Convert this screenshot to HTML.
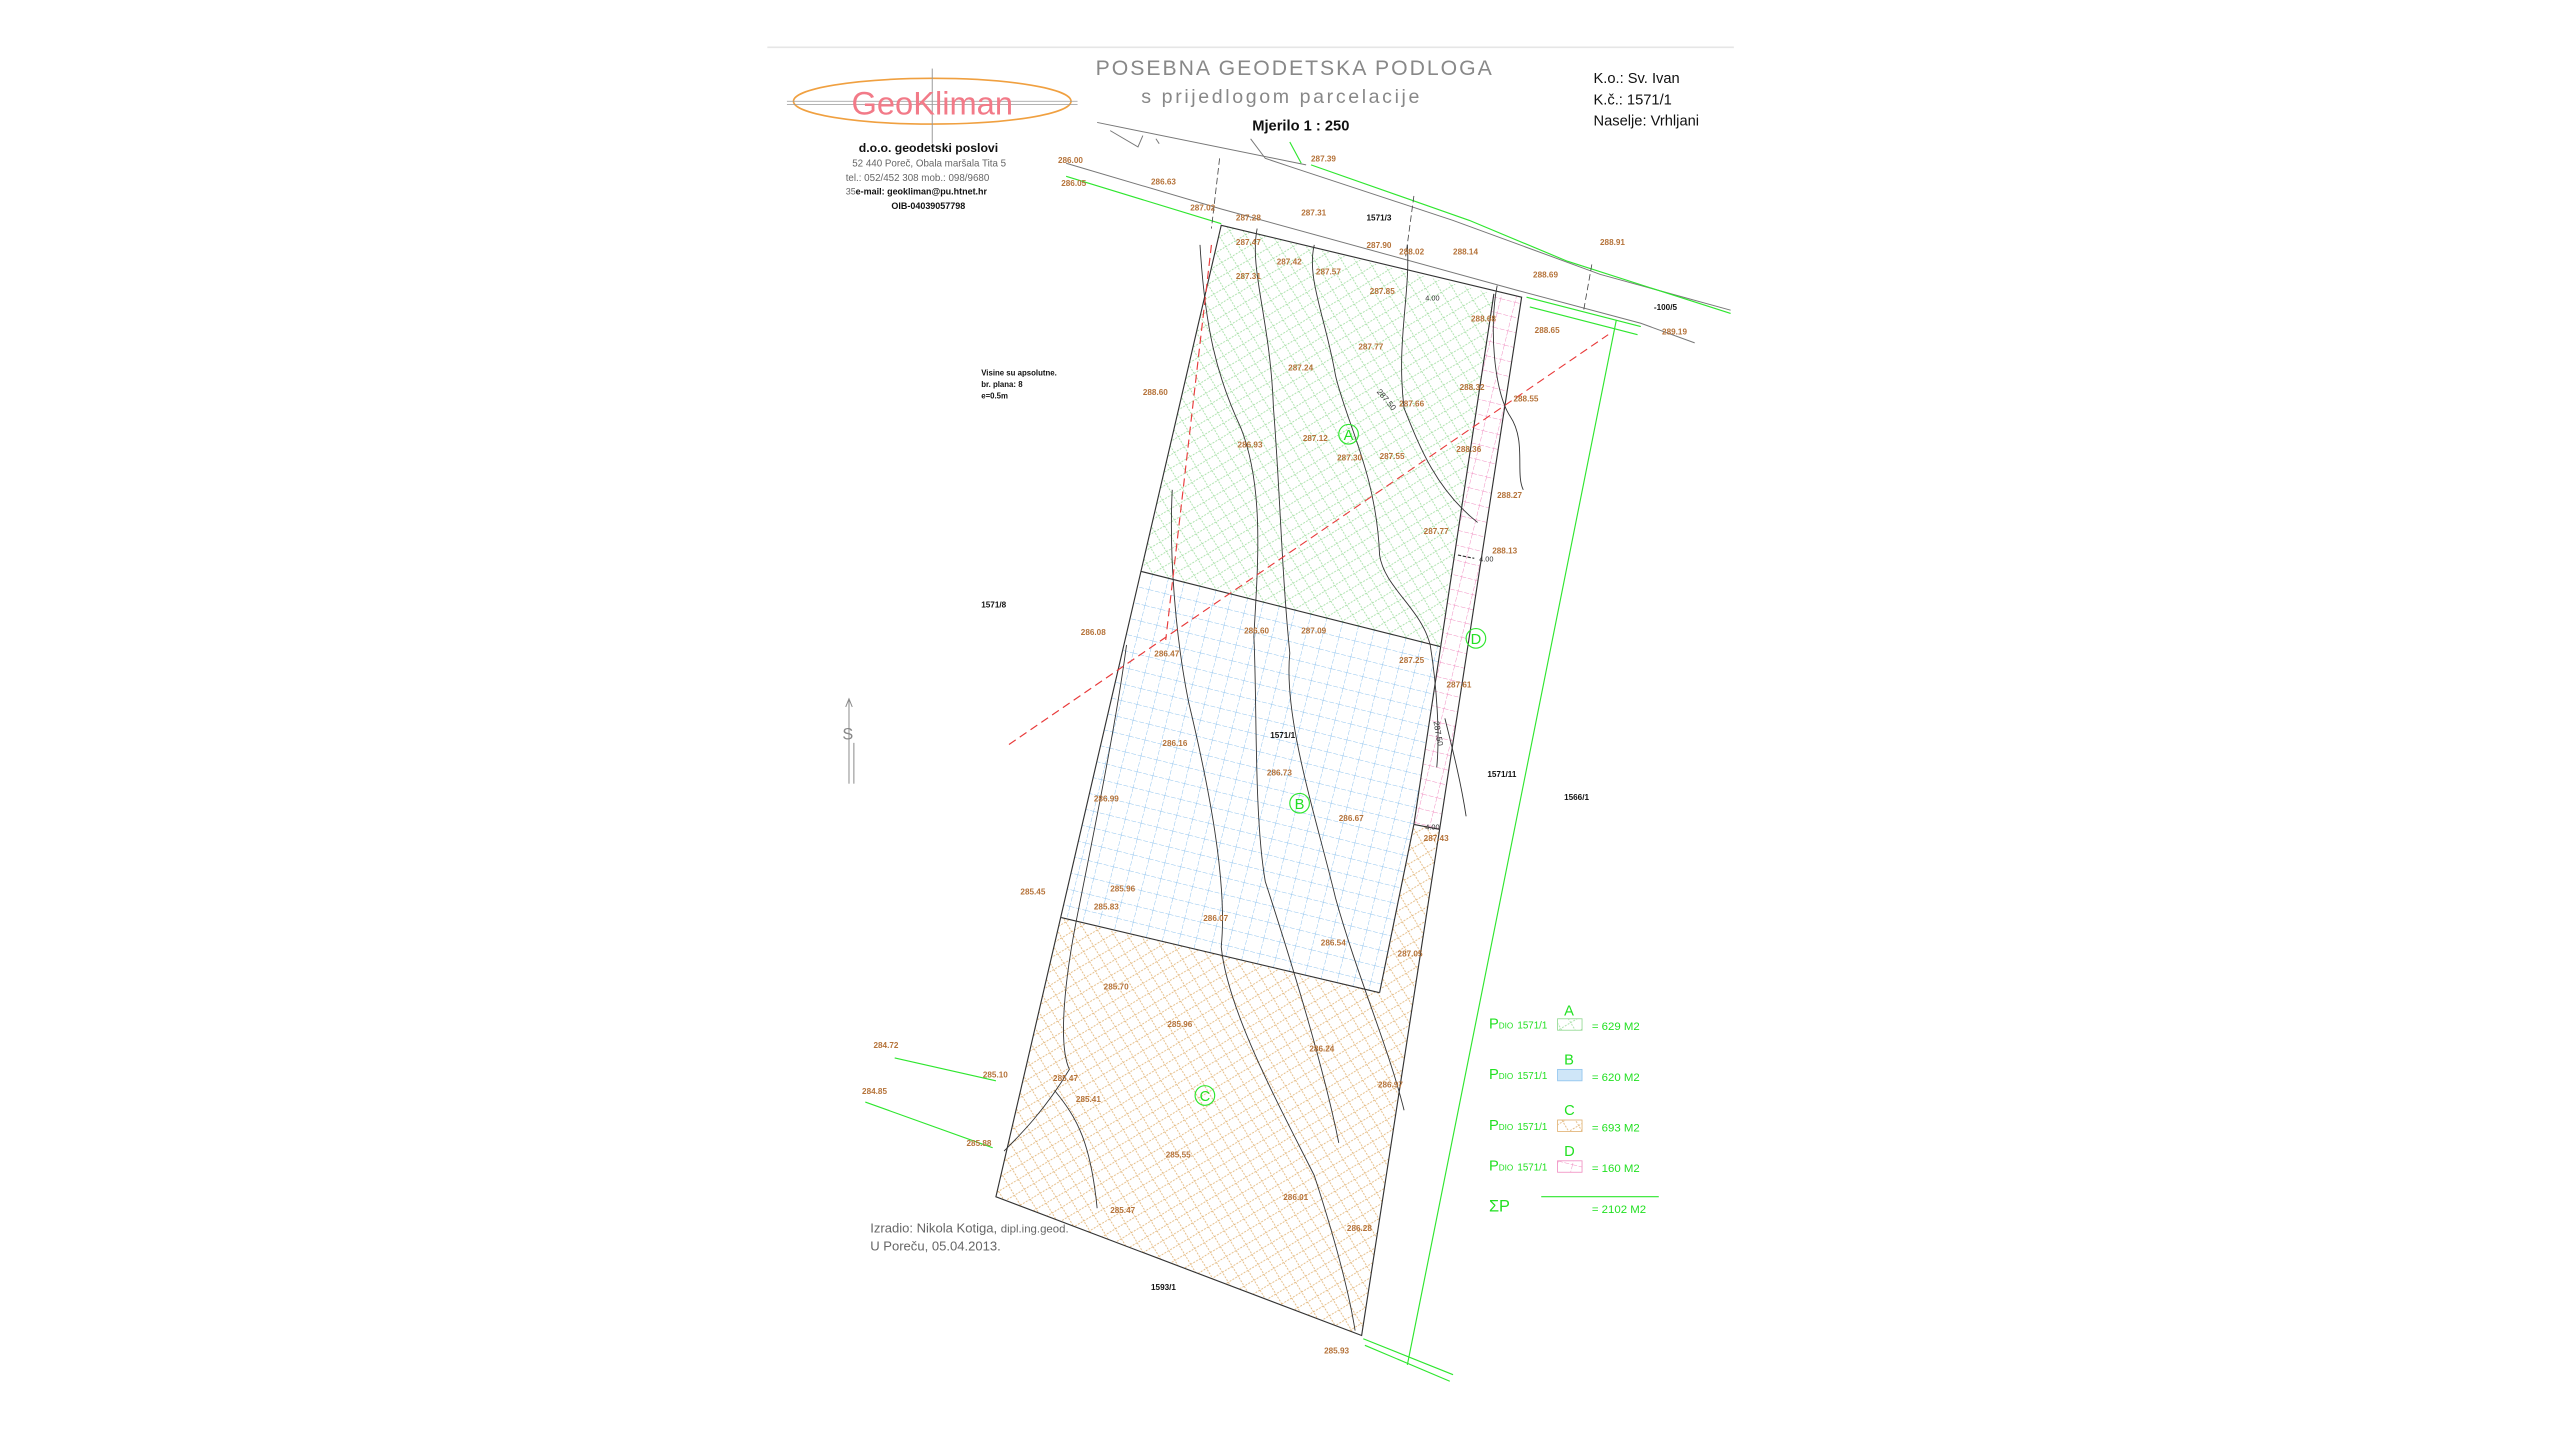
<!DOCTYPE html>
<html><head><meta charset="utf-8"><style>
html,body{margin:0;padding:0;background:#fff;}
svg{display:block;}
text{font-family:"Liberation Sans",sans-serif;}
.n{font-size:5px;fill:#b5733a;font-weight:bold;}
.b{font-size:5px;fill:#111;font-weight:bold;}
.g{fill:#22e022;font-family:"Liberation Sans",sans-serif;}
</style></head><body>
<svg width="2560" height="1440" viewBox="0 0 1568 882" xmlns="http://www.w3.org/2000/svg">
<defs>
<pattern id="pA" width="10" height="10" patternUnits="userSpaceOnUse" patternTransform="rotate(14)">
<path d="M0 0L10 10M10 0L0 10" stroke="#9ddc9d" stroke-width="0.5" stroke-dasharray="1.2 0.8"/></pattern>
<pattern id="pB" width="10" height="10" patternUnits="userSpaceOnUse" patternTransform="rotate(14)">
<path d="M0 0H10M0 0V10" stroke="#8ec3ee" stroke-width="0.6" stroke-dasharray="3 1"/></pattern>
<pattern id="pC" width="10" height="10" patternUnits="userSpaceOnUse" patternTransform="rotate(14)">
<path d="M0 0L10 10M10 0L0 10" stroke="#e0b070" stroke-width="0.5" stroke-dasharray="1.2 0.8"/></pattern>
<pattern id="pD" width="9" height="9" patternUnits="userSpaceOnUse" patternTransform="rotate(14)">
<path d="M0 0H9M0 0V9" stroke="#f08cc0" stroke-width="0.6" stroke-dasharray="3 1"/></pattern>
</defs>
<rect width="1568" height="882" fill="#fff"/>
<line x1="470" y1="29" x2="1062" y2="29" stroke="#e6e6e6" stroke-width="1"/>
<!-- logo -->
<ellipse cx="571" cy="62" rx="85" ry="14" fill="none" stroke="#f0a040" stroke-width="1"/>
<line x1="482" y1="62" x2="660" y2="62" stroke="#999" stroke-width="0.5"/>
<line x1="482" y1="64" x2="660" y2="64" stroke="#999" stroke-width="0.5"/>
<line x1="571" y1="42" x2="571" y2="88" stroke="#999" stroke-width="0.6"/>
<text x="571" y="70" text-anchor="middle" font-size="20" fill="#f27a88" style="font-weight:300">GeoKliman</text>
<text x="793" y="46" text-anchor="middle" font-size="13" fill="#888" letter-spacing="1.2">POSEBNA GEODETSKA PODLOGA</text>
<text x="785" y="63" text-anchor="middle" font-size="12" fill="#888" letter-spacing="1.6">s prijedlogom parcelacije</text>
<text x="767" y="80" font-size="9" fill="#111" font-weight="bold">Mjerilo 1 : 250</text>
<text x="976" y="51" font-size="9" fill="#111">K.o.: Sv. Ivan</text>
<text x="976" y="64" font-size="9" fill="#111">K.č.: 1571/1</text>
<text x="976" y="77" font-size="9" fill="#111">Naselje: Vrhljani</text>
<text x="526" y="93" font-size="7.5" fill="#111" font-weight="bold">d.o.o.  geodetski poslovi</text>
<text x="522" y="102" font-size="6" fill="#666">52 440 Poreč, Obala maršala Tita 5</text>
<text x="518" y="111" font-size="6" fill="#666">tel.: 052/452 308  mob.: 098/9680</text>
<text x="518" y="119" font-size="5.5" fill="#111" font-weight="bold"><tspan fill="#666" font-weight="normal">35</tspan>e-mail:  geokliman@pu.htnet.hr</text>
<text x="546" y="128" font-size="5.5" fill="#111" font-weight="bold">OIB-04039057798</text>
<!-- road lines -->
<g fill="none" stroke="#777" stroke-width="0.6">
<polyline points="672,75 800,101"/>
<polyline points="680,80 697,90 700,83"/>
<polyline points="766,85 775,97 790,102 890,135 980,168 1060,190"/>
<polyline points="653,100 748,128 930,178 1005,198 1038,210"/>
<line x1="708" y1="85" x2="710" y2="88"/>
</g>
<g fill="none" stroke="#2ee62e" stroke-width="0.7">
<polyline points="790,87 797,100"/>
<polyline points="803,101 900,135 960,160 1060,192"/>
<polyline points="653,108 748,137"/>
<polyline points="990,196 862,836"/>
<polyline points="935,182 1005,200"/>
<polyline points="937,188 1003,205"/>
<polyline points="548,648 610,662"/>
<polyline points="530,675 608,703"/>
<polyline points="835,820 890,842"/>
<polyline points="836,824 888,846"/>
</g>
<g stroke="#444" stroke-width="0.5" stroke-dasharray="4 2" fill="none">
<line x1="747" y1="97" x2="742" y2="140"/>
<line x1="866" y1="120" x2="861" y2="157"/>
<line x1="975" y1="162" x2="970" y2="190"/>
</g>
<!-- regions -->
<polygon points="748,138 915,180 882,396 699,350" fill="url(#pA)"/>
<polygon points="699,350 882,396 866,505 845,608 650,562" fill="url(#pB)"/>
<polygon points="650,562 845,608 866,505 882,508 834,818 610,733" fill="url(#pC)"/>
<polygon points="915,180 932,182 882,508 866,505" fill="url(#pD)"/>
<g fill="none" stroke="#333" stroke-width="0.7">
<polygon points="748,138 932,182 834,818 610,733"/>
<polyline points="915,180 866,505 845,608"/>
<line x1="699" y1="350" x2="882" y2="396"/>
<line x1="650" y1="562" x2="845" y2="608"/>
<line x1="866" y1="505" x2="882" y2="508"/>
<line x1="893" y1="340" x2="903" y2="342" stroke-dasharray="2 1"/>
</g>
<!-- contours -->
<g fill="none" stroke="#333" stroke-width="0.55">
<path d="M805,150 C800,170 812,195 818,230 C825,260 843,290 845,340 C848,360 870,372 876,395 C880,420 882,450 880,470"/>
<path d="M770,140 C765,165 778,195 780,250 C784,300 785,350 790,400 C786,440 806,500 818,550 C832,600 850,640 860,680"/>
<path d="M735,150 C738,200 745,230 760,262 C775,300 770,350 768,390 C770,430 768,500 775,540 C788,580 810,650 820,700"/>
<path d="M862,150 C864,180 855,210 860,250 C870,275 880,300 905,320"/>
<path d="M917,175 C912,200 915,240 925,255 C935,270 928,290 933,300"/>
<path d="M718,300 C716,340 720,390 728,430 C740,480 752,540 748,580 C752,620 785,680 805,720 C818,760 826,790 830,815"/>
<path d="M690,395 C684,440 672,500 660,560 C652,600 648,640 655,655 C640,680 625,695 615,705"/>
<path d="M646,668 C660,685 668,700 672,740"/>
<path d="M885,440 C890,460 895,480 898,500"/>
</g>
<g stroke="#e83a3a" stroke-width="0.7" stroke-dasharray="5 3" fill="none">
<line x1="618" y1="456" x2="985" y2="205"/>
<line x1="742" y1="150" x2="714" y2="392"/>
</g>
<g font-size="9" class="g" text-anchor="middle">
<circle cx="826" cy="266" r="6" fill="none" stroke="#2ee62e" stroke-width="0.7"/><text x="826" y="269.5" font-size="9">A</text>
<circle cx="796" cy="492" r="6" fill="none" stroke="#2ee62e" stroke-width="0.7"/><text x="796" y="495.5" font-size="9">B</text>
<circle cx="738" cy="671" r="6" fill="none" stroke="#2ee62e" stroke-width="0.7"/><text x="738" y="674.5" font-size="9">C</text>
<circle cx="904" cy="391" r="6" fill="none" stroke="#2ee62e" stroke-width="0.7"/><text x="904" y="394.5" font-size="9">D</text>
</g>
<g>
<text class="n" x="648" y="100">286.00</text><text class="n" x="650" y="114">286.05</text>
<text class="n" x="705" y="113">286.63</text><text class="n" x="729" y="129">287.02</text>
<text class="n" x="757" y="135">287.28</text><text class="n" x="797" y="132">287.31</text>
<text class="b" x="837" y="135">1571/3</text><text class="n" x="803" y="99">287.39</text>
<text class="n" x="757" y="150">287.47</text><text class="n" x="782" y="162">287.42</text>
<text class="n" x="757" y="171">287.31</text><text class="n" x="806" y="168">287.57</text>
<text class="n" x="837" y="152">287.90</text><text class="n" x="857" y="156">288.02</text>
<text class="n" x="890" y="156">288.14</text><text class="n" x="839" y="180">287.85</text>
<text class="n" x="980" y="150">288.91</text><text class="n" x="939" y="170">288.69</text>
<text class="n" x="901" y="197">288.68</text><text class="n" x="940" y="204">288.65</text>
<text class="n" x="1018" y="205">289.19</text><text class="b" x="1013" y="190">-100/5</text>
<text class="n" x="832" y="214">287.77</text><text class="n" x="789" y="227">287.24</text>
<text class="n" x="700" y="242">288.60</text><text class="n" x="894" y="239">288.32</text>
<text class="n" x="927" y="246">288.55</text><text class="n" x="857" y="249">287.66</text>
<text class="n" x="758" y="274">286.93</text><text class="n" x="798" y="270">287.12</text>
<text class="n" x="819" y="282">287.30</text><text class="n" x="845" y="281">287.55</text>
<text class="n" x="892" y="277">288.36</text><text class="n" x="917" y="305">288.27</text>
<text class="n" x="872" y="327">287.77</text><text class="n" x="914" y="339">288.13</text>
<text class="n" x="662" y="389">286.08</text><text class="n" x="762" y="388">286.60</text>
<text class="n" x="797" y="388">287.09</text><text class="n" x="707" y="402">286.47</text>
<text class="n" x="857" y="406">287.25</text><text class="n" x="886" y="421">287.61</text>
<text class="b" x="778" y="452">1571/1</text><text class="n" x="712" y="457">286.16</text>
<text class="n" x="776" y="475">286.73</text><text class="b" x="911" y="476">1571/11</text>
<text class="b" x="958" y="490">1566/1</text><text class="n" x="670" y="491">286.99</text>
<text class="n" x="820" y="503">286.67</text><text class="n" x="872" y="515">287.43</text>
<text class="n" x="625" y="548">285.45</text><text class="n" x="680" y="546">285.96</text>
<text class="n" x="670" y="557">285.83</text><text class="n" x="737" y="564">286.07</text>
<text class="n" x="809" y="579">286.54</text><text class="n" x="856" y="586">287.05</text>
<text class="n" x="676" y="606">285.70</text><text class="n" x="715" y="629">285.96</text>
<text class="n" x="802" y="644">286.24</text><text class="n" x="844" y="666">286.97</text>
<text class="n" x="535" y="642">284.72</text><text class="n" x="602" y="660">285.10</text>
<text class="n" x="645" y="662">285.47</text><text class="n" x="659" y="675">285.41</text>
<text class="n" x="528" y="670">284.85</text><text class="n" x="714" y="709">285.55</text>
<text class="n" x="592" y="702">285.88</text><text class="n" x="786" y="735">286.01</text>
<text class="n" x="680" y="743">285.47</text><text class="n" x="825" y="754">286.28</text>
<text class="n" x="811" y="829">285.93</text><text class="b" x="705" y="790">1593/1</text>
<text class="b" x="601" y="372">1571/8</text>
<text font-size="4.5" fill="#333" x="873" y="184">4.00</text>
<text font-size="4.5" fill="#333" x="873" y="508">4.00</text>
<text font-size="4.5" fill="#333" x="906" y="344">4.00</text>
<text font-size="5" fill="#333" x="843" y="240" transform="rotate(50 843 240)">287.50</text>
<text font-size="5" fill="#333" x="878" y="442" transform="rotate(80 878 442)">287.50</text>
</g>
<text x="601" y="230" font-size="4.8" fill="#111" font-weight="bold">Visine su apsolutne.</text>
<text x="601" y="237" font-size="4.8" fill="#111" font-weight="bold">br. plana: 8</text>
<text x="601" y="244" font-size="4.8" fill="#111" font-weight="bold">e=0.5m</text>
<text x="533" y="755" font-size="8" fill="#666">Izradio:  Nikola Kotiga, <tspan font-size="7">dipl.ing.geod.</tspan></text>
<text x="533" y="766" font-size="8" fill="#666">U Poreču,  05.04.2013.</text>
<g stroke="#888" stroke-width="0.6" fill="none">
<line x1="520" y1="428" x2="520" y2="480"/><line x1="523" y1="455" x2="523" y2="480"/>
<polyline points="518,433 520,428 522,433"/>
</g>
<text x="516" y="453" font-size="10" fill="#888">S</text>
<g class="g">
<text x="958" y="622" font-size="9">A</text>
<text x="958" y="652" font-size="9">B</text>
<text x="958" y="683" font-size="9">C</text>
<text x="958" y="708" font-size="9">D</text>
<text x="912" y="630" font-size="9">P<tspan font-size="5">DIO</tspan>  <tspan font-size="6">1571/1</tspan></text>
<text x="912" y="661" font-size="9">P<tspan font-size="5">DIO</tspan>  <tspan font-size="6">1571/1</tspan></text>
<text x="912" y="692" font-size="9">P<tspan font-size="5">DIO</tspan>  <tspan font-size="6">1571/1</tspan></text>
<text x="912" y="717" font-size="9">P<tspan font-size="5">DIO</tspan>  <tspan font-size="6">1571/1</tspan></text>
<text x="975" y="631" font-size="7">= 629 M2</text>
<text x="975" y="662" font-size="7">= 620 M2</text>
<text x="975" y="693" font-size="7">= 693 M2</text>
<text x="975" y="718" font-size="7">= 160 M2</text>
<text x="912" y="742" font-size="10">ΣP</text>
<text x="975" y="743" font-size="7">= 2102 M2</text>
</g>
<rect x="954" y="624" width="15" height="7" fill="url(#pA)" stroke="#8fd88f" stroke-width="0.5"/>
<rect x="954" y="655" width="15" height="7" fill="#cfe6f8" stroke="#8ec3ee" stroke-width="0.5"/>
<rect x="954" y="686" width="15" height="7" fill="url(#pC)" stroke="#e0b070" stroke-width="0.5"/>
<rect x="954" y="711" width="15" height="7" fill="url(#pD)" stroke="#f08cc0" stroke-width="0.5"/>
<line x1="944" y1="733" x2="1016" y2="733" stroke="#2ee62e" stroke-width="0.7"/>
</svg>
</body></html>
